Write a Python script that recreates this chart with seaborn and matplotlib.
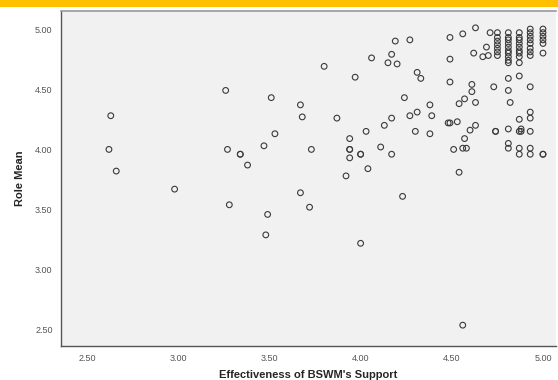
import matplotlib
matplotlib.use("Agg")
import matplotlib.pyplot as plt
from matplotlib.patches import Rectangle
import seaborn as sns
import pandas as pd

# Points (Effectiveness of BSWM's Support, Role Mean)
support = [
    2.63, 2.62, 2.66, 2.98,
    3.26, 3.28, 3.27, 3.34, 3.34, 3.38, 3.47, 3.48, 3.49, 3.51, 3.53,
    3.67, 3.67, 3.68, 3.72, 3.73, 3.80, 3.87, 3.92, 3.94, 3.94, 3.94, 3.94,
    3.97, 4.00, 4.00, 4.00, 4.03, 4.04, 4.06, 4.11, 4.13, 4.15, 4.17, 4.17,
    4.17, 4.19, 4.20, 4.23, 4.24, 4.27, 4.27, 4.30, 4.31, 4.31, 4.33, 4.38,
    4.38, 4.39,
    4.48, 4.49, 4.49, 4.49, 4.49, 4.51, 4.53, 4.54, 4.54, 4.56, 4.56, 4.57,
    4.57, 4.58, 4.60, 4.61, 4.61, 4.62, 4.63, 4.63, 4.63, 4.67, 4.69, 4.70,
    4.71, 4.73, 4.74, 4.74, 4.81, 4.81, 4.81, 4.81, 4.81, 4.82, 4.87, 4.87,
    4.87, 4.87, 4.87, 4.88, 4.88, 4.93, 4.93, 4.93, 4.93, 4.93, 4.93, 5.00,
    5.00, 4.56,
    4.75, 4.75, 4.75, 4.75, 4.75, 4.75, 4.75,
    4.81, 4.81, 4.81, 4.81, 4.81, 4.81, 4.81, 4.81, 4.81, 4.81,
    4.87, 4.87, 4.87, 4.87, 4.87, 4.87, 4.87, 4.87, 4.87,
    4.93, 4.93, 4.93, 4.93, 4.93, 4.93, 4.93, 4.93,
    5.00, 5.00, 5.00, 5.00, 5.00, 5.00,
]
role_mean = [
    4.28, 4.00, 3.82, 3.67,
    4.49, 3.54, 4.00, 3.96, 3.96, 3.87, 4.03, 3.29, 3.46, 4.43, 4.13,
    4.37, 3.64, 4.27, 3.52, 4.00, 4.69, 4.26, 3.78, 4.09, 4.00, 4.00, 3.93,
    4.60, 3.96, 3.96, 3.22, 4.15, 3.84, 4.76, 4.02, 4.20, 4.72, 4.79, 4.26,
    3.96, 4.90, 4.71, 3.61, 4.43, 4.91, 4.28, 4.15, 4.31, 4.64, 4.59, 4.37,
    4.13, 4.28,
    4.22, 4.93, 4.75, 4.56, 4.22, 4.00, 4.23, 4.38, 3.81, 4.96, 4.01, 4.42,
    4.09, 4.01, 4.16, 4.54, 4.48, 4.80, 5.01, 4.39, 4.20, 4.77, 4.85, 4.78,
    4.97, 4.52, 4.15, 4.15, 4.59, 4.49, 4.17, 4.05, 4.01, 4.39, 4.61, 4.15,
    4.25, 4.01, 3.96, 4.15, 4.17, 4.52, 4.31, 4.26, 4.01, 3.96, 4.15, 3.96,
    3.96, 2.54,
    4.97, 4.93, 4.90, 4.87, 4.84, 4.81, 4.78,
    4.97, 4.93, 4.91, 4.88, 4.85, 4.82, 4.80, 4.77, 4.74, 4.72,
    4.97, 4.93, 4.91, 4.88, 4.85, 4.82, 4.80, 4.77, 4.72,
    5.00, 4.97, 4.94, 4.91, 4.88, 4.84, 4.81, 4.78,
    5.00, 4.97, 4.94, 4.91, 4.88, 4.80,
]
x_ticks = [2.50, 3.00, 3.50, 4.00, 4.50, 5.00]
y_ticks = [2.50, 3.00, 3.50, 4.00, 4.50, 5.00]

df = pd.DataFrame({"support": support, "role": role_mean})

sns.set_style("white")
plt.rcParams["font.family"] = ["Liberation Sans", "DejaVu Sans"]

fig = plt.figure(figsize=(5.58, 3.80), dpi=100)
ax = fig.add_axes([0.1093, 0.0895, 0.887, 0.8816])
ax.set_facecolor("#f1f1f1")

# yellow band at the top of the page
fig.patches.append(Rectangle((0, 1 - 7 / 380), 1, 7 / 380, transform=fig.transFigure,
                             facecolor="#ffc000", edgecolor="none"))

sns.scatterplot(data=df, x="support", y="role", ax=ax, marker="o", s=17,
                facecolor="none", edgecolor="#3a3a3a", linewidth=0.8)

ax.set_xlim(2.357, 5.071)
ax.set_ylim(2.367, 5.15)
ax.set_xticks(x_ticks)
ax.set_yticks(y_ticks)
ax.set_xticklabels([f"{t:.2f}" for t in x_ticks])
ax.set_yticklabels([f"{t:.2f}" for t in y_ticks])
ax.tick_params(axis="both", direction="out", length=4, width=0.8, color="#444444",
               labelsize=6.5, labelcolor="#555555", pad=2)

for side in ["left", "bottom"]:
    ax.spines[side].set_color("#555555")
    ax.spines[side].set_linewidth(1.0)
ax.spines["top"].set_color("#999999")
ax.spines["top"].set_linewidth(1.2)
ax.spines["right"].set_visible(False)

ax.set_xlabel("Effectiveness of BSWM's Support", fontsize=8, fontweight="bold", labelpad=5)
ax.set_ylabel("Role Mean", fontsize=8, fontweight="bold", labelpad=7)

fig.savefig("out.png", dpi=100)
